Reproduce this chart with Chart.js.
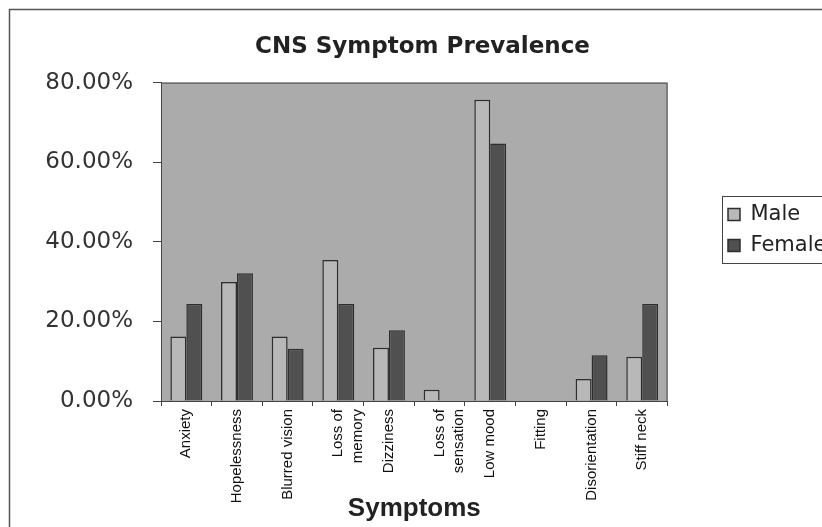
<!DOCTYPE html>
<html>
<head>
<meta charset="utf-8">
<script src="https://cdn.jsdelivr.net/npm/chart.js@4.4.1/dist/chart.umd.min.js"></script>
<style>
    html, body { margin: 0; padding: 0; background: #fff; overflow: hidden; }
    #wrap { width: 822px; height: 527px; position: relative; }
</style>
</head>
<body>
<div id="wrap"><canvas id="cnsChart" width="822" height="527"></canvas></div>
<script>
// Chart data (percent of respondents)
const symptoms = ['Anxiety', 'Hopelessness', 'Blurred vision', ['Loss of', 'memory'], 'Dizziness',
    ['Loss of', 'sensation'], 'Low mood', 'Fitting', 'Disorientation', 'Stiff neck'];
const maleValues = [16.2, 29.9, 16.2, 35.4, 13.4, 2.8, 75.7, 0, 5.5, 11.1];
const femaleValues = [24.4, 32.1, 13.1, 24.4, 17.8, 0, 64.7, 0, 11.5, 24.4];
const seriesNames = ['Male', 'Female'];
const yTicks = [0, 20, 40, 60, 80];

const plotBg = '#ababab';
const edge = '#2e2e2e';

// White page, outer frame and grey plot area
const frameAndBackground = {
    id: 'frameAndBackground',
    beforeDraw(chart) {
        const { ctx, chartArea: a } = chart;
        ctx.save();
        ctx.fillStyle = '#fff';
        ctx.fillRect(0, 0, chart.width, chart.height);
        ctx.strokeStyle = '#555';
        ctx.lineWidth = 1.5;
        ctx.beginPath();
        ctx.moveTo(9.5, chart.height);
        ctx.lineTo(9.5, 9.5);
        ctx.lineTo(chart.width, 9.5);
        ctx.stroke();
        ctx.fillStyle = plotBg;
        ctx.fillRect(a.left, a.top, a.right - a.left, a.bottom - a.top);
        ctx.strokeStyle = '#444';
        ctx.lineWidth = 1;
        ctx.strokeRect(a.left + 0.5, a.top + 0.5, a.right - a.left - 1, a.bottom - a.top);
        ctx.restore();
    }
};

// Move legend off the plot (with a box round it) and centre the title like the original
const legendPlace = {
    id: 'legendPlace',
    afterLayout(chart) {
        const lg = chart.legend;
        const dx = 718 - lg.left;
        lg.left += dx;
        lg.right += dx;
        lg.top -= 39.5;
        lg.bottom -= 39.5;
        const tb = chart.titleBlock;
        if (tb) {
            tb.left += 18;
            tb.right += 18;
        }
    },
    afterDraw(chart) {
        const lg = chart.legend;
        const boxes = lg.legendHitBoxes;
        if (!boxes || !boxes.length) return;
        const first = boxes[0];
        const last = boxes[boxes.length - 1];
        const { ctx } = chart;
        ctx.save();
        ctx.strokeStyle = '#444';
        ctx.lineWidth = 1;
        ctx.strokeRect(lg.left + 4.5, first.top - 7.5, chart.width, last.top + last.height - first.top + 15);
        ctx.restore();
    }
};

const ctx = document.getElementById('cnsChart').getContext('2d');

new Chart(ctx, {
    type: 'bar',
    data: {
        labels: symptoms,
        datasets: [{
            label: seriesNames[0],
            data: maleValues,
            backgroundColor: '#b8b8b8',
            borderColor: edge,
            borderWidth: 1.5
        }, {
            label: seriesNames[1],
            data: femaleValues,
            backgroundColor: '#505050',
            borderColor: edge,
            borderWidth: 1.5
        }]
    },
    options: {
        responsive: false,
        animation: false,
        layout: {
            padding: { left: 23, right: 36, top: 12, bottom: 0 }
        },
        datasets: {
            bar: {
                categoryPercentage: 0.63,
                barPercentage: 1.0
            }
        },
        plugins: {
            title: {
                display: true,
                text: 'CNS Symptom Prevalence',
                color: '#222',
                font: { family: 'DejaVu Sans', size: 23, weight: 'bold', lineHeight: 1.2 },
                padding: { top: 21, bottom: 22 }
            },
            legend: {
                display: true,
                position: 'right',
                labels: {
                    boxWidth: 12,
                    boxHeight: 12,
                    padding: 10,
                    color: '#222',
                    font: { family: 'DejaVu Sans', size: 21 }
                }
            },
            tooltip: { enabled: false }
        },
        scales: {
            x: {
                grid: {
                    display: true,
                    offset: true,
                    drawOnChartArea: false,
                    tickLength: 5,
                    color: '#444'
                },
                border: { display: true, color: '#444', width: 1 },
                ticks: {
                    autoSkip: false,
                    minRotation: 90,
                    maxRotation: 90,
                    padding: 3,
                    color: '#111',
                    font: { family: 'Liberation Sans', size: 15, lineHeight: 1.3 }
                },
                title: {
                    display: true,
                    text: 'Symptoms',
                    color: '#222',
                    font: { family: 'Liberation Sans', size: 26, weight: 'bold', lineHeight: 1.2 },
                    padding: { top: 0, bottom: 3 }
                },
                afterFit(scale) {
                    scale.height = 126;
                }
            },
            y: {
                min: yTicks[0],
                max: yTicks[yTicks.length - 1],
                grid: {
                    display: true,
                    drawOnChartArea: false,
                    tickLength: 8,
                    color: '#444'
                },
                border: { display: true, color: '#444', width: 1 },
                ticks: {
                    stepSize: yTicks[1] - yTicks[0],
                    padding: 20,
                    color: '#333',
                    font: { family: 'DejaVu Sans', size: 23 },
                    callback: value => value.toFixed(2) + '%'
                },
                afterFit(scale) {
                    scale.width = 138;
                }
            }
        }
    },
    plugins: [frameAndBackground, legendPlace]
});
</script>
</body>
</html>
